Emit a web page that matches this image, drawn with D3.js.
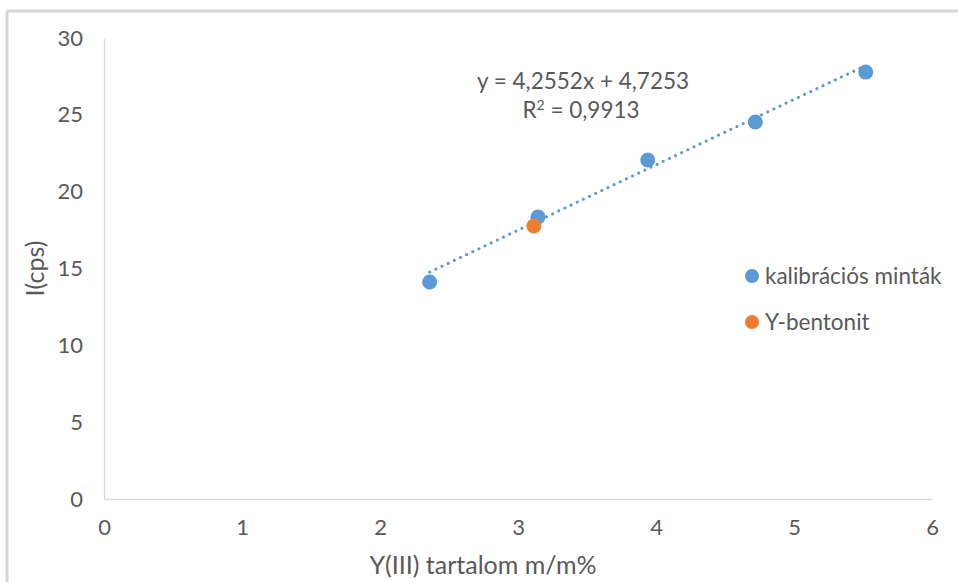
<!DOCTYPE html>
<html>
<head>
<meta charset="utf-8">
<script src="https://cdn.jsdelivr.net/npm/d3@7"></script>
<style>
  html, body { margin: 0; padding: 0; background: #fff; }
  svg { display: block; }
  text { font-family: Lato, "Open Sans", sans-serif; fill: #595959; }
</style>
</head>
<body>
<svg id="chart" width="958" height="582"></svg>
<script>
// Calibration samples: Y(III) content (m/m%) vs intensity (cps)
const calibX = [2.36, 3.145, 3.94, 4.72, 5.52];
const calibY = [14.12, 18.35, 22.06, 24.53, 27.78];
// Y-bentonite sample
const sampleX = [3.115];
const sampleY = [17.77];
// Linear trendline fitted to the calibration samples
const slope = 4.2552;
const intercept = 4.7253;
const rSquared = 0.9913;
const xTicks = [0, 1, 2, 3, 4, 5, 6];
const yTicks = [0, 5, 10, 15, 20, 25, 30];
const seriesNames = ["kalibrációs minták", "Y-bentonit"];
const seriesColors = ["#5B9BD5", "#ED7D31"];

const svg = d3.select("#chart");
const W = 958, H = 582;

// Outer frame (grey border along top and left)
svg.append("line").attr("x1", 7).attr("x2", W).attr("y1", 11).attr("y2", 11)
  .attr("stroke", "#d6d6d6").attr("stroke-width", 3);
svg.append("line").attr("x1", 7).attr("x2", 7).attr("y1", 11).attr("y2", H)
  .attr("stroke", "#d6d6d6").attr("stroke-width", 3);

const plot = { left: 104, right: 932, top: 38, bottom: 499 };
const x = d3.scaleLinear().domain([0, 6]).range([plot.left, plot.right]);
const y = d3.scaleLinear().domain([0, 30]).range([plot.bottom, plot.top]);

const fmt = d3.format("d");
const tickSize = 22;

// X axis
const xAxis = svg.append("g").attr("transform", `translate(0,${plot.bottom})`)
  .call(d3.axisBottom(x).tickValues(xTicks).tickFormat(fmt).tickSize(0).tickPadding(20));
xAxis.select(".domain").attr("stroke", "#d9d9d9").attr("stroke-width", 1.3);
xAxis.selectAll("text").attr("font-size", tickSize).style("fill", "#595959");

// Y axis
const yAxis = svg.append("g").attr("transform", `translate(${plot.left},0)`)
  .call(d3.axisLeft(y).tickValues(yTicks).tickFormat(fmt).tickSize(0).tickPadding(21));
yAxis.select(".domain").attr("stroke", "#d9d9d9").attr("stroke-width", 1.3);
yAxis.selectAll("text").attr("font-size", tickSize).style("fill", "#595959");

// Axis titles
svg.append("text").attr("x", 483).attr("y", 574)
  .attr("text-anchor", "middle").attr("font-size", 25).text("Y(III) tartalom m/m%");
svg.append("text").attr("transform", `translate(44,${(plot.top + plot.bottom) / 2}) rotate(-90)`)
  .attr("text-anchor", "middle").attr("font-size", 25).text("I(cps)");

// Trendline over the calibration range
const x0 = d3.min(calibX), x1 = d3.max(calibX);
svg.append("line")
  .attr("x1", x(x0)).attr("y1", y(slope * x0 + intercept))
  .attr("x2", x(x1)).attr("y2", y(slope * x1 + intercept))
  .attr("stroke", seriesColors[0]).attr("stroke-width", 3)
  .attr("stroke-linecap", "round").attr("stroke-dasharray", "0.1 6.7");

// Markers
svg.append("g").selectAll("circle").data(calibX.map((v, i) => [v, calibY[i]]))
  .join("circle").attr("cx", d => x(d[0])).attr("cy", d => y(d[1]))
  .attr("r", 7.5).attr("fill", seriesColors[0]);
svg.append("g").selectAll("circle").data(sampleX.map((v, i) => [v, sampleY[i]]))
  .join("circle").attr("cx", d => x(d[0])).attr("cy", d => y(d[1]))
  .attr("r", 7.5).attr("fill", seriesColors[1]);

// Trendline equation
const dec = v => d3.format(".4f")(v).replace(".", ",");
svg.append("text").attr("text-anchor", "middle").attr("font-size", 22.5)
  .attr("x", 583).attr("y", 89)
  .text(`y = ${dec(slope)}x + ${dec(intercept)}`);
const r2 = svg.append("text").attr("text-anchor", "middle").attr("font-size", 22.5)
  .attr("x", 581).attr("y", 118);
r2.append("tspan").text("R");
r2.append("tspan").attr("dy", -8).attr("font-size", 14).text("2");
r2.append("tspan").attr("dy", 8).text(` = ${dec(rSquared)}`);

// Legend
const legend = svg.append("g");
seriesNames.forEach((name, i) => {
  const ly = 276 + i * 46;
  legend.append("circle").attr("cx", 752).attr("cy", ly).attr("r", 7).attr("fill", seriesColors[i]);
  legend.append("text").attr("x", 765).attr("y", ly + 8).attr("font-size", 22.5).text(name);
});
</script>
</body>
</html>
